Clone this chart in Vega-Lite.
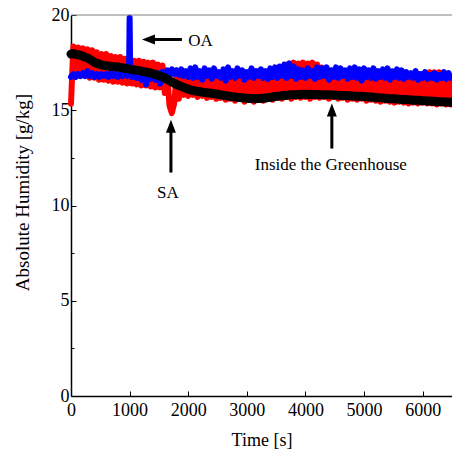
{
"$schema": "https://vega.github.io/schema/vega-lite/v6.json",
"width": 381, "height": 381,
"autosize": "none",
"padding": {"left": 71, "top": 15, "right": 0, "bottom": 57},
"background": "white",
"config": {"view": {"stroke": null}, "font": "Liberation Serif"},
"datasets": {
"red": [{"t":0,"v":15.35},{"t":40,"v":18.35},{"t":80,"v":16.85},{"t":120,"v":18.3},{"t":160,"v":16.8},{"t":200,"v":18.25},{"t":240,"v":16.8},{"t":280,"v":18.2},{"t":320,"v":16.7},{"t":360,"v":18.15},{"t":400,"v":16.7},{"t":440,"v":18.05},{"t":480,"v":16.6},{"t":520,"v":17.95},{"t":560,"v":16.6},{"t":600,"v":17.95},{"t":640,"v":16.55},{"t":680,"v":17.85},{"t":720,"v":16.5},{"t":760,"v":17.8},{"t":800,"v":16.5},{"t":840,"v":17.8},{"t":880,"v":16.45},{"t":920,"v":17.7},{"t":960,"v":16.4},{"t":1000,"v":17.7},{"t":1040,"v":16.4},{"t":1080,"v":17.6},{"t":1120,"v":16.35},{"t":1160,"v":17.6},{"t":1200,"v":16.3},{"t":1240,"v":17.55},{"t":1280,"v":16.3},{"t":1320,"v":17.5},{"t":1360,"v":16.25},{"t":1400,"v":17.5},{"t":1440,"v":16.2},{"t":1480,"v":17.4},{"t":1520,"v":16.2},{"t":1560,"v":17.35},{"t":1600,"v":15.9},{"t":1640,"v":16.9},{"t":1680,"v":15.25},{"t":1720,"v":14.85},{"t":1760,"v":15.35},{"t":1800,"v":16.8},{"t":1840,"v":15.6},{"t":1880,"v":16.85},{"t":1920,"v":15.8},{"t":1960,"v":16.9},{"t":2000,"v":15.75},{"t":2040,"v":16.85},{"t":2080,"v":15.8},{"t":2120,"v":16.9},{"t":2160,"v":15.7},{"t":2200,"v":16.8},{"t":2240,"v":15.75},{"t":2280,"v":16.85},{"t":2320,"v":15.65},{"t":2360,"v":16.8},{"t":2400,"v":15.7},{"t":2440,"v":16.75},{"t":2480,"v":15.6},{"t":2520,"v":16.8},{"t":2560,"v":15.65},{"t":2600,"v":16.85},{"t":2640,"v":15.55},{"t":2680,"v":16.75},{"t":2720,"v":15.6},{"t":2760,"v":16.8},{"t":2800,"v":15.5},{"t":2840,"v":16.75},{"t":2880,"v":15.6},{"t":2920,"v":16.8},{"t":2960,"v":15.45},{"t":3000,"v":16.75},{"t":3040,"v":15.55},{"t":3080,"v":16.8},{"t":3120,"v":15.45},{"t":3160,"v":16.85},{"t":3200,"v":15.55},{"t":3240,"v":16.9},{"t":3280,"v":15.5},{"t":3320,"v":16.95},{"t":3360,"v":15.6},{"t":3400,"v":17.0},{"t":3440,"v":15.55},{"t":3480,"v":17.1},{"t":3520,"v":15.65},{"t":3560,"v":17.2},{"t":3600,"v":15.6},{"t":3640,"v":17.3},{"t":3680,"v":15.7},{"t":3720,"v":17.45},{"t":3760,"v":15.6},{"t":3800,"v":17.5},{"t":3840,"v":15.7},{"t":3880,"v":17.45},{"t":3920,"v":15.65},{"t":3960,"v":17.5},{"t":4000,"v":15.7},{"t":4040,"v":17.45},{"t":4080,"v":15.6},{"t":4120,"v":17.5},{"t":4160,"v":15.7},{"t":4200,"v":17.4},{"t":4240,"v":15.65},{"t":4280,"v":17.25},{"t":4320,"v":15.7},{"t":4360,"v":17.1},{"t":4400,"v":15.6},{"t":4440,"v":17.05},{"t":4480,"v":15.7},{"t":4520,"v":17.0},{"t":4560,"v":15.6},{"t":4600,"v":17.0},{"t":4640,"v":15.65},{"t":4680,"v":16.95},{"t":4720,"v":15.55},{"t":4760,"v":17.0},{"t":4800,"v":15.6},{"t":4840,"v":16.95},{"t":4880,"v":15.55},{"t":4920,"v":16.95},{"t":4960,"v":15.6},{"t":5000,"v":16.9},{"t":5040,"v":15.5},{"t":5080,"v":16.95},{"t":5120,"v":15.55},{"t":5160,"v":16.9},{"t":5200,"v":15.5},{"t":5240,"v":16.9},{"t":5280,"v":15.45},{"t":5320,"v":16.85},{"t":5360,"v":15.5},{"t":5400,"v":16.9},{"t":5440,"v":15.45},{"t":5480,"v":16.85},{"t":5520,"v":15.4},{"t":5560,"v":16.9},{"t":5600,"v":15.45},{"t":5640,"v":16.85},{"t":5680,"v":15.4},{"t":5720,"v":16.9},{"t":5760,"v":15.35},{"t":5800,"v":16.85},{"t":5840,"v":15.4},{"t":5880,"v":16.9},{"t":5920,"v":15.35},{"t":5960,"v":16.9},{"t":6000,"v":15.4},{"t":6040,"v":16.95},{"t":6080,"v":15.35},{"t":6120,"v":17.0},{"t":6160,"v":15.35},{"t":6200,"v":17.0},{"t":6240,"v":15.3},{"t":6280,"v":17.0},{"t":6320,"v":15.35},{"t":6360,"v":16.95},{"t":6400,"v":15.3},{"t":6440,"v":16.9},{"t":6480,"v":15.3}],
"blue": [{"t":0,"v":16.75},{"t":40,"v":16.9},{"t":80,"v":16.75},{"t":120,"v":16.9},{"t":160,"v":16.8},{"t":200,"v":16.95},{"t":240,"v":16.8},{"t":280,"v":17.05},{"t":320,"v":16.8},{"t":360,"v":16.95},{"t":400,"v":16.75},{"t":440,"v":16.9},{"t":480,"v":16.75},{"t":520,"v":16.9},{"t":560,"v":16.8},{"t":600,"v":16.9},{"t":640,"v":16.75},{"t":680,"v":16.95},{"t":720,"v":16.8},{"t":760,"v":16.9},{"t":800,"v":16.75},{"t":840,"v":16.9},{"t":880,"v":16.8},{"t":920,"v":16.95},{"t":960,"v":16.8},{"t":990,"v":16.9},{"t":1000,"v":19.85},{"t":1010,"v":16.9},{"t":1040,"v":16.75},{"t":1080,"v":16.95},{"t":1120,"v":16.7},{"t":1160,"v":16.9},{"t":1200,"v":16.6},{"t":1240,"v":16.9},{"t":1280,"v":16.35},{"t":1320,"v":16.95},{"t":1360,"v":16.65},{"t":1400,"v":16.9},{"t":1440,"v":16.6},{"t":1480,"v":16.95},{"t":1520,"v":16.4},{"t":1560,"v":17.0},{"t":1600,"v":16.75},{"t":1640,"v":17.1},{"t":1680,"v":16.85},{"t":1720,"v":17.15},{"t":1760,"v":16.9},{"t":1800,"v":17.1},{"t":1840,"v":16.85},{"t":1880,"v":17.15},{"t":1920,"v":16.8},{"t":1960,"v":17.05},{"t":2000,"v":16.75},{"t":2040,"v":17.2},{"t":2080,"v":16.7},{"t":2120,"v":17.25},{"t":2160,"v":16.75},{"t":2200,"v":17.05},{"t":2240,"v":16.6},{"t":2280,"v":17.2},{"t":2320,"v":16.8},{"t":2360,"v":17.1},{"t":2400,"v":16.65},{"t":2440,"v":17.2},{"t":2480,"v":16.8},{"t":2520,"v":17.0},{"t":2560,"v":16.7},{"t":2600,"v":17.15},{"t":2640,"v":16.55},{"t":2680,"v":17.25},{"t":2720,"v":16.75},{"t":2760,"v":17.05},{"t":2800,"v":16.7},{"t":2840,"v":17.2},{"t":2880,"v":16.8},{"t":2920,"v":17.1},{"t":2960,"v":16.6},{"t":3000,"v":17.0},{"t":3040,"v":16.75},{"t":3080,"v":17.2},{"t":3120,"v":16.7},{"t":3160,"v":17.05},{"t":3200,"v":16.8},{"t":3240,"v":17.15},{"t":3280,"v":16.7},{"t":3320,"v":17.05},{"t":3360,"v":16.65},{"t":3400,"v":17.2},{"t":3440,"v":16.75},{"t":3480,"v":17.25},{"t":3520,"v":16.7},{"t":3560,"v":17.3},{"t":3600,"v":16.8},{"t":3640,"v":17.4},{"t":3680,"v":16.7},{"t":3720,"v":17.45},{"t":3760,"v":16.8},{"t":3800,"v":17.3},{"t":3840,"v":16.65},{"t":3880,"v":17.15},{"t":3920,"v":16.75},{"t":3960,"v":17.1},{"t":4000,"v":16.7},{"t":4040,"v":17.2},{"t":4080,"v":16.8},{"t":4120,"v":17.05},{"t":4160,"v":16.65},{"t":4200,"v":17.25},{"t":4240,"v":16.75},{"t":4280,"v":17.2},{"t":4320,"v":16.8},{"t":4360,"v":17.25},{"t":4400,"v":16.6},{"t":4440,"v":17.1},{"t":4480,"v":16.75},{"t":4520,"v":17.25},{"t":4560,"v":16.7},{"t":4600,"v":17.2},{"t":4640,"v":16.8},{"t":4680,"v":17.1},{"t":4720,"v":16.65},{"t":4760,"v":17.2},{"t":4800,"v":16.75},{"t":4840,"v":17.25},{"t":4880,"v":16.7},{"t":4920,"v":17.15},{"t":4960,"v":16.55},{"t":5000,"v":17.2},{"t":5040,"v":16.75},{"t":5080,"v":17.1},{"t":5120,"v":16.7},{"t":5160,"v":17.2},{"t":5200,"v":16.65},{"t":5240,"v":17.05},{"t":5280,"v":16.75},{"t":5320,"v":17.15},{"t":5360,"v":16.7},{"t":5400,"v":17.2},{"t":5440,"v":16.6},{"t":5480,"v":17.05},{"t":5520,"v":16.75},{"t":5560,"v":17.15},{"t":5600,"v":16.7},{"t":5640,"v":17.1},{"t":5680,"v":16.65},{"t":5720,"v":17.0},{"t":5760,"v":16.75},{"t":5800,"v":16.95},{"t":5840,"v":16.7},{"t":5880,"v":17.05},{"t":5920,"v":16.6},{"t":5960,"v":16.9},{"t":6000,"v":16.7},{"t":6040,"v":17.0},{"t":6080,"v":16.65},{"t":6120,"v":16.85},{"t":6160,"v":16.7},{"t":6200,"v":16.95},{"t":6240,"v":16.6},{"t":6280,"v":16.85},{"t":6320,"v":16.7},{"t":6360,"v":17.0},{"t":6400,"v":16.65},{"t":6440,"v":16.95},{"t":6480,"v":16.7}],
"black": [{"t":0,"v":17.95},{"t":40,"v":17.98},{"t":80,"v":17.93},{"t":120,"v":17.92},{"t":160,"v":17.88},{"t":200,"v":17.85},{"t":240,"v":17.78},{"t":280,"v":17.74},{"t":320,"v":17.68},{"t":360,"v":17.6},{"t":400,"v":17.52},{"t":440,"v":17.46},{"t":480,"v":17.42},{"t":520,"v":17.38},{"t":560,"v":17.36},{"t":600,"v":17.33},{"t":640,"v":17.32},{"t":680,"v":17.31},{"t":720,"v":17.29},{"t":760,"v":17.28},{"t":800,"v":17.27},{"t":840,"v":17.25},{"t":880,"v":17.23},{"t":920,"v":17.2},{"t":960,"v":17.19},{"t":1000,"v":17.16},{"t":1040,"v":17.14},{"t":1080,"v":17.12},{"t":1120,"v":17.1},{"t":1160,"v":17.08},{"t":1200,"v":17.06},{"t":1240,"v":17.03},{"t":1280,"v":17.01},{"t":1320,"v":16.98},{"t":1360,"v":16.96},{"t":1400,"v":16.92},{"t":1440,"v":16.88},{"t":1480,"v":16.84},{"t":1520,"v":16.8},{"t":1560,"v":16.75},{"t":1600,"v":16.7},{"t":1640,"v":16.62},{"t":1680,"v":16.55},{"t":1720,"v":16.48},{"t":1760,"v":16.42},{"t":1800,"v":16.36},{"t":1840,"v":16.3},{"t":1880,"v":16.25},{"t":1920,"v":16.2},{"t":1960,"v":16.15},{"t":2000,"v":16.11},{"t":2040,"v":16.07},{"t":2080,"v":16.04},{"t":2120,"v":16.01},{"t":2160,"v":15.99},{"t":2200,"v":15.97},{"t":2240,"v":15.95},{"t":2280,"v":15.93},{"t":2320,"v":15.92},{"t":2360,"v":15.9},{"t":2400,"v":15.89},{"t":2440,"v":15.87},{"t":2480,"v":15.85},{"t":2520,"v":15.83},{"t":2560,"v":15.81},{"t":2600,"v":15.79},{"t":2640,"v":15.77},{"t":2680,"v":15.75},{"t":2720,"v":15.73},{"t":2760,"v":15.71},{"t":2800,"v":15.7},{"t":2840,"v":15.68},{"t":2880,"v":15.67},{"t":2920,"v":15.66},{"t":2960,"v":15.64},{"t":3000,"v":15.63},{"t":3040,"v":15.62},{"t":3080,"v":15.62},{"t":3120,"v":15.61},{"t":3160,"v":15.61},{"t":3200,"v":15.62},{"t":3240,"v":15.62},{"t":3280,"v":15.63},{"t":3320,"v":15.64},{"t":3360,"v":15.66},{"t":3400,"v":15.68},{"t":3440,"v":15.7},{"t":3480,"v":15.72},{"t":3520,"v":15.74},{"t":3560,"v":15.75},{"t":3600,"v":15.77},{"t":3640,"v":15.78},{"t":3680,"v":15.79},{"t":3720,"v":15.8},{"t":3760,"v":15.81},{"t":3800,"v":15.82},{"t":3840,"v":15.82},{"t":3880,"v":15.83},{"t":3920,"v":15.83},{"t":3960,"v":15.84},{"t":4000,"v":15.84},{"t":4040,"v":15.83},{"t":4080,"v":15.84},{"t":4120,"v":15.83},{"t":4160,"v":15.82},{"t":4200,"v":15.83},{"t":4240,"v":15.82},{"t":4280,"v":15.82},{"t":4320,"v":15.81},{"t":4360,"v":15.82},{"t":4400,"v":15.81},{"t":4440,"v":15.8},{"t":4480,"v":15.8},{"t":4520,"v":15.79},{"t":4560,"v":15.79},{"t":4600,"v":15.78},{"t":4640,"v":15.78},{"t":4680,"v":15.77},{"t":4720,"v":15.76},{"t":4760,"v":15.76},{"t":4800,"v":15.75},{"t":4840,"v":15.75},{"t":4880,"v":15.74},{"t":4920,"v":15.73},{"t":4960,"v":15.73},{"t":5000,"v":15.72},{"t":5040,"v":15.71},{"t":5080,"v":15.7},{"t":5120,"v":15.69},{"t":5160,"v":15.68},{"t":5200,"v":15.67},{"t":5240,"v":15.66},{"t":5280,"v":15.65},{"t":5320,"v":15.64},{"t":5360,"v":15.63},{"t":5400,"v":15.62},{"t":5440,"v":15.61},{"t":5480,"v":15.6},{"t":5520,"v":15.6},{"t":5560,"v":15.59},{"t":5600,"v":15.58},{"t":5640,"v":15.57},{"t":5680,"v":15.56},{"t":5720,"v":15.56},{"t":5760,"v":15.55},{"t":5800,"v":15.54},{"t":5840,"v":15.53},{"t":5880,"v":15.53},{"t":5920,"v":15.52},{"t":5960,"v":15.51},{"t":6000,"v":15.5},{"t":6040,"v":15.5},{"t":6080,"v":15.49},{"t":6120,"v":15.48},{"t":6160,"v":15.47},{"t":6200,"v":15.47},{"t":6240,"v":15.46},{"t":6280,"v":15.45},{"t":6320,"v":15.45},{"t":6360,"v":15.44},{"t":6400,"v":15.43},{"t":6440,"v":15.43},{"t":6480,"v":15.42}],
"frame": [{"t":0,"t2":6500,"v":20}],
"hArrows": [{"t":1300,"t2":1892,"v":18.71}],
"vArrows": [{"t":1705,"v":14.1,"v2":11.73},{"t":4450,"v":14.95,"v2":12.99}],
"heads": [{"t":1210,"v":18.71,"dir":"left"},{"t":1705,"v":14.5,"dir":"up"},{"t":4450,"v":15.35,"dir":"up"}],
"labels": [{"t":2208,"v":18.35,"label":"OA"},{"t":1653,"v":10.4,"label":"SA"},{"t":4432,"v":11.88,"label":"Inside the Greenhouse"}]
},
"encoding": {
"x": {"field": "t", "type": "quantitative", "title": "Time [s]",
 "scale": {"domain": [0, 6500], "nice": false, "zero": false},
 "axis": {"values": [0,1000,2000,3000,4000,5000,6000], "format": "d", "grid": false,
  "tickSize": -5, "tickColor": "black", "tickWidth": 1, "domainColor": "black", "domainWidth": 1.5,
  "labelFont": "Liberation Serif", "labelFontSize": 18, "labelColor": "black", "labelPadding": 10,
  "labelFlush": false, "labelOverlap": false,
  "titleFont": "Liberation Serif", "titleFontSize": 18, "titleFontWeight": "normal", "titleColor": "black",
  "titleY": 44, "titleBaseline": "middle"}},
"y": {"field": "v", "type": "quantitative", "title": "Absolute Humidity [g/kg]",
 "scale": {"domain": [0, 20], "nice": false, "zero": false},
 "axis": {"values": [0,2.5,5,7.5,10,12.5,15,17.5,20], "labelExpr": "datum.value % 5 === 0 ? datum.label : ''", "grid": false,
  "tickSize": {"condition": {"test": "datum.value % 5 === 0", "value": -5}, "value": -3},
  "tickColor": "black", "tickWidth": 1, "domainColor": "black", "domainWidth": 1.5,
  "labelFont": "Liberation Serif", "labelFontSize": 18, "labelColor": "black", "labelPadding": 7,
  "labelFlush": false, "labelOverlap": false,
  "titleFont": "Liberation Serif", "titleFontSize": 19, "titleFontWeight": "normal", "titleColor": "black",
  "titleX": -49, "titleY": 177, "titleAngle": -90, "titleAlign": "center", "titleBaseline": "middle"}}
},
"layer": [
{"data": {"name": "red"}, "mark": {"type": "line", "color": "#ff0000", "strokeWidth": 6, "strokeCap": "round", "strokeJoin": "round"}},
{"data": {"name": "blue"}, "mark": {"type": "line", "color": "#0000ff", "strokeWidth": 6, "strokeCap": "round", "strokeJoin": "round"}},
{"data": {"name": "black"}, "mark": {"type": "line", "color": "#000000", "strokeWidth": 9, "strokeCap": "round", "strokeJoin": "round"}},
{"data": {"name": "frame"}, "mark": {"type": "rule", "color": "#808080", "strokeWidth": 1}, "encoding": {"x2": {"field": "t2"}}},
{"data": {"name": "hArrows"}, "mark": {"type": "rule", "color": "#000000", "strokeWidth": 3}, "encoding": {"x2": {"field": "t2"}}},
{"data": {"name": "vArrows"}, "mark": {"type": "rule", "color": "#000000", "strokeWidth": 3}, "encoding": {"y2": {"field": "v2"}}},
{"data": {"name": "heads"}, "mark": {"type": "point", "filled": true, "size": 100, "color": "#000000", "opacity": 1, "strokeWidth": 0},
 "encoding": {"shape": {"field": "dir", "type": "nominal", "legend": null, "scale": {"domain": ["left", "up"], "range": ["M0,0L2.6,-1L2.6,1Z", "M0,0L-1,2.6L1,2.6Z"]}}}},
{"data": {"name": "labels"}, "mark": {"type": "text", "font": "Liberation Serif", "fontSize": 17, "color": "#000000", "align": "center", "baseline": "alphabetic"},
 "encoding": {"text": {"field": "label", "type": "nominal"}}}
]
}
